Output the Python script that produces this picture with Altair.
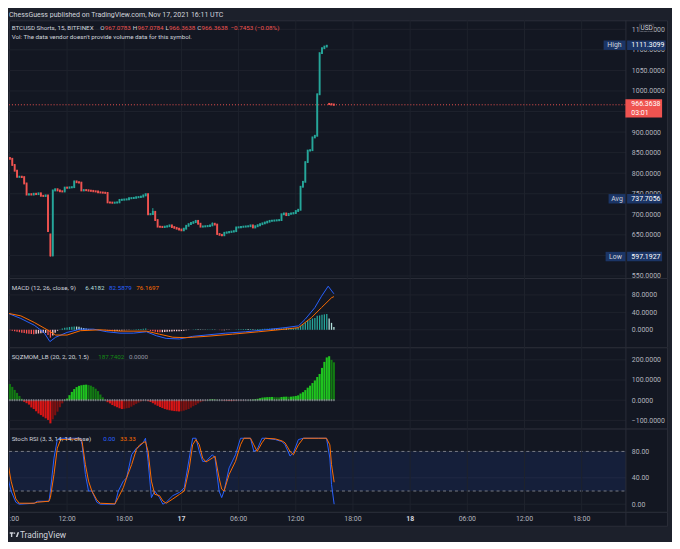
import altair as alt
import numpy as np
import pandas as pd

# ---------------- data ----------------
# 15-minute bars; index 0 = 17 Nov 2021 00:00 UTC
bar_idx = list(range(-72, 65))
closes = [
    835, 820, 806, 791, 791.5, 790.5, 775, 748, 749, 748,
    750, 749, 751, 745, 744.5, 746, 659, 600, 758, 761,
    758, 756, 755.5, 765, 764.5, 765.5, 766, 780, 778, 777,
    758, 759, 758.5, 757.5, 757, 756, 755.5, 753.5, 753, 752.5,
    752, 729, 728.5, 728, 728.5, 729, 735, 735.5, 736, 736.5,
    739, 739.5, 740, 741.5, 742, 743, 746, 749, 700, 700.5,
    706, 686, 670, 669.5, 669, 670, 671, 673, 669, 667,
    665, 663, 661, 665, 672, 676, 679, 681, 684, 677,
    670, 670.5, 671, 671.5, 673, 677, 675, 652, 650, 649,
    655, 656, 657, 658, 659, 668, 668.5, 669.5, 670, 670.5,
    671, 673, 668, 671, 673.5, 676, 678, 680, 682, 684,
    684.5, 685, 685.5, 686, 700, 702, 698, 701, 702, 703,
    708, 711, 767, 779, 827, 855, 856, 887, 891, 992,
    1092, 1104, 1108, 1110, 968, 967.0783, 966.3638]
first_open = 837
gap_opens = {-55: 651, 62: 968.6}
wick_high = {-72: 838, -12: 715, 13: 680, 61: 1111.3099, 64: 967.0784}
wick_low = {-55: 597.1927, -54: 598, -12: 699, 17: 647}

macd_hist = [
    -1, -2, -3, -4.5, -5.5, -6.5, -7.5, -8.5, -9, -9.5,
    -10, -9, -8.5, -8, -7.5, -7, -12, -18, -13, -7,
    -2, 1, 3, 4.5, 5.5, 6.5, 7, 7.5, 7.5, 7,
    5, 4, 3, 2, 1.5, 1, 0.8, 0.5, 0.3, 0,
    -0.5, -1.5, -2.5, -3, -3, -2.8, -2, -1.5, -1, -0.6,
    -0.2, 0.3, 0.8, 1.2, 1.6, 2, 2.5, 3, -0.5, -2.5,
    -3.5, -4.5, -5.5, -5.8, -5.5, -5, -4.5, -4, -3.8, -3.5,
    -3.2, -3, -2.8, -2, -1.2, -0.5, 0.2, 0.8, 1.5, 1.3,
    0.8, 0.6, 0.6, 0.7, 0.8, 1.1, 1.0, 0, -0.6, -1.0,
    -0.8, -0.5, -0.2, 0.1, 0.4, 1, 1.2, 1.4, 1.5, 1.6,
    1.6, 1.8, 1.4, 1.5, 1.7, 1.9, 2.1, 2.3, 2.5, 2.7,
    2.6, 2.5, 2.4, 2.3, 3.2, 3.6, 3.2, 3.3, 3.4, 3.5,
    4, 5, 9, 12, 17, 21, 23, 26, 27, 32,
    33, 34.5, 35.5, 36, 26, 16, 6.4182]
macd_idx = [-72.9, -67.4, -61.8, -57.7, -55.2, -52.8, -48.0, -42.4, -36.9, -31.3,
            -25.8, -20.2, -14.7, -10.5, -6.4, -0.8, 4.7, 10.3, 18.6, 26.9,
            35.2, 43.5, 49.1, 51.9, 56.0, 58.8, 61.6, 64.0]
macd_val = [38, 26, 10.6, -6, -27, -17, -6, 1.5, 1.5, -4.5,
            -7.6, -7.6, -4.5, -13.6, -19.7, -21, -15, -12, -7.6, -4.5,
            0, 5, 9, 24, 51, 77, 100, 82.5879]
signal_idx = [-72.9, -67.4, -61.8, -56.3, -52.8, -48.0, -42.4, -34.1, -25.8, -14.7,
              -9.2, -3.6, 1.9, 10.3, 21.4, 32.4, 43.5, 49.1, 54.6, 58.8, 63.0, 64.0]
signal_val = [38, 32, 17, 0, -12, -12, -2, 0, -3, -3,
              -10, -17, -18, -15, -10, -4.5, 1.5, 5, 28, 51, 73.5, 76.1697]

sqz_mom = [
    80, 66, 51, 36, 21, 7, -8, -15, -22, -36,
    -44, -55, -66, -74, -82, -90, -98, -115, -95, -75,
    -57, -35, -16, 2, 8, 25, 41, 55, 65, 71,
    74, 76, 77, 75, 72, 66, 57, 45, 28, 14,
    2, -10, -16, -24, -30, -35, -40, -44, -43, -40,
    -38, -32, -25, -18, -12, -6, -3, -1, -5, -9,
    -15, -22, -28, -34, -39, -44, -47, -50, -52, -54,
    -55, -56, -55, -52, -48, -44, -37, -30, -24, -16,
    -10, -5, -2, 1, 3, 5, 4, 2, 0.5, -1,
    -2, -3, -4, -4.5, -4, -3, -2, -1.5, -1, -0.5,
    0.5, 1.5, 3, 5, 7, 10, 13, 14, 15, 15.5,
    16, 15, 14.5, 14, 16, 17, 17.5, 17, 17.5, 19,
    21, 24, 33, 40, 50, 62, 72, 85, 98, 115,
    130, 160, 190, 212, 218, 200, 187.7402]

stoch_idx = [-73.2, -71.5, -69.5, -68.1, -61.8, -60.5, -55.6, -55.0, -53.5, -52.1,
             -50.7, -42.4, -41.7, -40.3, -39.0, -37.6, -35.5, -34.1, -27.9, -26.5,
             -24.4, -23.0, -20.9, -18.9, -17.5, -16.1, -15.1, -14.0, -12.6, -11.2,
             -9.2, -7.8, -6.4, -3.6, -0.8, 1.2, 3.3, 4.7, 6.1, 7.5,
             8.9, 10.3, 13.0, 14.1, 15.8, 16.9, 17.9, 20.0, 22.7, 24.8,
             26.2, 29.0, 30.4, 31.8, 33.8, 35.2, 39.4, 42.2, 43.5, 45.6,
             47.0, 49.1, 51.2, 57.4, 60.9, 62.3, 63.0, 64.1]
stoch_k = [45, 20, 3, 0, 1.5, 4.5, 4.5, 20, 70, 98,
           100, 100, 90, 45, 20, 20, 3, 0, 0, 20,
           35, 40, 75, 85, 88, 93, 100, 65, 10, 20,
           10, 0, 3, 13, 18, 25, 70, 100, 100, 80,
           65, 65, 75, 70, 20, 10, 20, 55, 75, 100,
           100, 100, 80, 83, 100, 100, 98, 95, 90, 73,
           78, 98, 100, 100, 100, 70, 30, 0]
stoch_d = [70, 35, 8, 1.5, 1.5, 3, 4.5, 10, 45, 85,
           98, 99, 95, 60, 35, 20, 6.5, 1.5, 0.5, 10,
           25, 40, 60, 83, 90, 93, 95, 80, 35, 15,
           13, 5, 1.5, 8, 15, 20, 55, 90, 98, 90,
           70, 64, 70, 73, 40, 23, 20, 45, 65, 90,
           100, 100, 90, 80, 93, 100, 99, 96, 93, 80,
           75, 90, 100, 100, 100, 90, 60, 33.33]

price_grid = [550, 600, 650, 700, 750, 800, 850, 900, 950, 1000, 1050, 1100, 1150]
# 600 and 950 sit fully under the Low / last-price badges in the picture
price_labels = [550, 650, 700, 750, 800, 850, 900, 1000, 1050, 1100, 1150]
macd_ticks = [0, 40, 80]
sqz_ticks = [-100, 0, 100, 200]
stoch_ticks = [0, 40, 80]
time_grid_idx = [-48, -24, 0, 24, 48, 72, 96, 120, 144, 168]
time_label_idx = [-48, -24, 0, 24, 48, 72, 96, 120, 144, 168]
time_label_txt = ["12:00", "18:00", "17", "06:00", "12:00", "18:00", "18", "06:00", "12:00", "18:00"]
time_label_day = [False, False, True, False, False, False, True, False, False, False]
cut_label_idx, cut_label_txt = -72.1, ":00"   # the 06:00 label cut by the left edge

price_high, price_avg, price_low, price_last = 1111.3099, 737.7056, 597.1927, 966.3638

# ---------------- style ----------------
W = 664
SEP = 622.5
BG = "#131722"
OUTER = "#1c202b"
GRID = "#1e222d"
SEPC = "#2a2e39"
TXT = "#d1d4dc"
AXC = "#b2b5be"
FONT = "Roboto"
GREEN = "#26a69a"
RED = "#ef5350"
NAVY = "#1b3566"
LFS = 6.3  # legend font size

x_scale = alt.Scale(domain=[-72.38, 203.83], nice=False, zero=False)
price_scale = alt.Scale(domain=[545.1, 1171.9], nice=False, zero=False)
macd_scale = alt.Scale(domain=[-40.2, 118.9], nice=False, zero=False)
sqz_scale = alt.Scale(domain=[-141, 262], nice=False, zero=False)
stoch_scale = alt.Scale(domain=[-11.6, 114.6], nice=False, zero=False)

one = pd.DataFrame({"k": [0]})


def X(f):
    return alt.X(f, type="quantitative", scale=x_scale, axis=None)


def yaxis(vals, fmt):
    return alt.Axis(orient="right", values=vals, format=fmt, labelPadding=-36, labelAlign="left",
                    labelBaseline="middle", labelColor=AXC, labelFont=FONT, labelFontSize=7,
                    ticks=False, tickSize=0, domain=False, grid=False, title=None,
                    labelOverlap=False, labelBound=False, labelFlush=False)


price_axis = yaxis(price_labels, ".4f")
macd_axis = yaxis(macd_ticks, ".4f")
sqz_axis = yaxis(sqz_ticks, ".4f")
stoch_axis = yaxis(stoch_ticks, ".2f")


def PY(f):
    return alt.Y(f, type="quantitative", scale=price_scale, axis=price_axis)


def MY(f):
    return alt.Y(f, type="quantitative", scale=macd_scale, axis=macd_axis)


def QY(f):
    return alt.Y(f, type="quantitative", scale=sqz_scale, axis=sqz_axis)


def SY(f):
    return alt.Y(f, type="quantitative", scale=stoch_scale, axis=stoch_axis)


def hgrid(vals, Yf):
    return alt.Chart(pd.DataFrame({"v": vals})).mark_rule(color=GRID, strokeWidth=1).encode(
        y=Yf("v"), x=alt.value(0), x2=alt.value(SEP))


def vgrid():
    return alt.Chart(pd.DataFrame({"i": time_grid_idx})).mark_rule(color=GRID, strokeWidth=1).encode(x=X("i"))


def sepline():
    return alt.Chart(one).mark_rule(color=SEPC, strokeWidth=1).encode(x=alt.value(SEP))


def label(x, y, text, color, size=LFS, align="left", weight="normal"):
    return alt.Chart(one).mark_text(text=text, align=align, baseline="middle", color=color,
                                    fontSize=size, font=FONT, fontWeight=weight).encode(
        x=alt.value(x), y=alt.value(y))


def ptext(price, x, text, color, dy=0, align="left", size=7):
    return alt.Chart(pd.DataFrame({"p": [price]})).mark_text(
        text=text, align=align, baseline="middle", color=color, fontSize=size, font=FONT, dy=dy).encode(
        x=alt.value(x), y=PY("p"))


def pbox(price, x1, x2, color, h, off=0):
    return alt.Chart(pd.DataFrame({"p": [price]})).mark_rule(
        color=color, strokeWidth=h, yOffset=off).encode(
        x=alt.value(x1), x2=alt.value(x2), y=PY("p"))


# ---------------- candles ----------------
opens = []
for k, i in enumerate(bar_idx):
    o = first_open if k == 0 else closes[k - 1]
    opens.append(gap_opens.get(i, o))
highs = [wick_high.get(i, max(o, c)) for i, o, c in zip(bar_idx, opens, closes)]
lows = [wick_low.get(i, min(o, c)) for i, o, c in zip(bar_idx, opens, closes)]
cdf = pd.DataFrame({"i": bar_idx, "o": opens, "c": closes, "h": highs, "l": lows})
cdf["col"] = np.where(cdf["c"] >= cdf["o"], GREEN, RED)

wicks = alt.Chart(cdf).mark_rule(strokeWidth=1).encode(
    x=X("i"), y=PY("l"), y2="h:Q", color=alt.Color("col:N", scale=None))
bodies = alt.Chart(cdf).mark_rule(strokeWidth=1.9, strokeCap="square").encode(
    x=X("i"), y=PY("o"), y2="c:Q", color=alt.Color("col:N", scale=None))
last_line = alt.Chart(pd.DataFrame({"p": [price_last]})).mark_rule(
    color=RED, strokeWidth=1, strokeDash=[1, 2]).encode(y=PY("p"), x=alt.value(0), x2=alt.value(SEP))

badges = []
for price, name, lx, vx2 in [(price_high, "High", 600, 662.5), (price_avg, "Avg", 605, 659),
                             (price_low, "Low", 602, 659)]:
    badges += [pbox(price, lx, 622, NAVY, 9.5), pbox(price, 623.7, vx2, NAVY, 9.5),
               ptext(price, (lx + 622) / 2, name, TXT, align="center"),
               ptext(price, 628, f"{price:.4f}", "#ffffff")]
badges += [pbox(price_last, 622, 659, RED, 18.4, 3.6),
           ptext(price_last, 628, f"{price_last:.4f}", "#ffffff", dy=-0.6),
           ptext(price_last, 628, "03:01", "#ffffff", dy=8),
           pbox(1150, 636, 651, "#434651", 8, -1.6),
           pbox(1150, 636.8, 650.2, BG, 6.4, -1.6),
           ptext(1150, 643.5, "USD", TXT, dy=-1.6, align="center", size=6.5)]

L1 = 7.7
main_legend = [
    label(0, -5.4, "ChessGuess published on TradingView.com, Nov 17, 2021 16:11 UTC", TXT, size=7.1),
    label(2.7, L1, "BTCUSD Shorts, 15, BITFINEX", TXT),
    label(92, L1, "O", TXT), label(96.5, L1, "967.0783", RED),
    label(125, L1, "H", TXT), label(129.6, L1, "967.0784", RED),
    label(158, L1, "L", TXT), label(161.5, L1, "966.3638", RED),
    label(190, L1, "C", TXT), label(194.3, L1, "966.3638", RED),
    label(223.5, L1, "\u22120.7453 (\u22120.08%)", RED),
    label(2.7, 17.3, "Vol: The data vendor doesn't provide volume data for this symbol.", TXT),
]

p1 = alt.layer(hgrid(price_grid, PY), vgrid(), sepline(), last_line, wicks, bodies,
               *main_legend, *badges).properties(width=W, height=260)

# ---------------- MACD ----------------
mdf = pd.DataFrame({"i": bar_idx, "h": macd_hist})
prev = mdf["h"].shift(1).fillna(mdf["h"].iloc[0] + 1)
mdf["col"] = np.where(mdf["h"] >= 0, np.where(mdf["h"] > prev, "#26a69a", "#b2dfdb"),
                      np.where(mdf["h"] < prev, "#ff5252", "#ffcdd2"))
mhist = alt.Chart(mdf).mark_rule(strokeWidth=1.3).encode(
    x=X("i"), y=MY("h"), y2=alt.datum(0), color=alt.Color("col:N", scale=None))
mline = alt.Chart(pd.DataFrame({"i": macd_idx, "v": macd_val})).mark_line(
    color="#2962ff", strokeWidth=1, clip=True).encode(x=X("i"), y=MY("v"))
sline = alt.Chart(pd.DataFrame({"i": signal_idx, "v": signal_val})).mark_line(
    color="#ff6d00", strokeWidth=1, clip=True).encode(x=X("i"), y=MY("v"))
p2 = alt.layer(hgrid(macd_ticks, MY), vgrid(), sepline(), mhist, mline, sline,
               label(2.7, 10, "MACD (12, 26, close, 9)", TXT),
               label(77, 10, "6.4182", "#b2dfdb"),
               label(101, 10, "82.5879", "#2962ff"),
               label(128.5, 10, "76.1697", "#ff6d00")).properties(width=W, height=70)

# ---------------- SQZMOM ----------------
qdf = pd.DataFrame({"i": bar_idx, "v": sqz_mom})
qdf["z"] = 0
qprev = qdf["v"].shift(1).fillna(qdf["v"].iloc[0] + 1)
qdf["col"] = np.where(qdf["v"] >= 0, np.where(qdf["v"] > qprev, "#1fc41f", "#137a13"),
                      np.where(qdf["v"] < qprev, "#d81515", "#7c1111"))
qhist = alt.Chart(qdf).mark_rule(strokeWidth=2.1).encode(
    x=X("i"), y=QY("v"), y2=alt.datum(0), color=alt.Color("col:N", scale=None))
qdots = alt.Chart(qdf).mark_point(shape="cross", filled=True, size=5, color="#868993", opacity=0.9).encode(
    x=X("i"), y=QY("z"))
p3 = alt.layer(hgrid(sqz_ticks, QY), vgrid(), sepline(), qhist, qdots,
               label(2.7, 10, "SQZMOM_LB (20, 2, 20, 1.5)", TXT),
               label(90, 10, "187.7402", "#168a16"),
               label(121, 10, "0.0000", "#9598a1")).properties(width=W, height=82)

# ---------------- Stoch RSI ----------------
band = alt.Chart(pd.DataFrame({"lo": [20], "hi": [80]})).mark_rect(color="#2962ff", opacity=0.11).encode(
    x=alt.value(0), x2=alt.value(SEP), y=SY("hi"), y2="lo:Q")
bandlines = alt.Chart(pd.DataFrame({"v": [20, 80]})).mark_rule(
    color="#787b86", strokeWidth=1, strokeDash=[3, 3]).encode(y=SY("v"), x=alt.value(0), x2=alt.value(SEP))
sdf = pd.DataFrame({"i": stoch_idx, "k": stoch_k, "d": stoch_d})
kline = alt.Chart(sdf).mark_line(color="#2962ff", strokeWidth=1, clip=True).encode(x=X("i"), y=SY("k"))
dline = alt.Chart(sdf).mark_line(color="#ff6d00", strokeWidth=1, clip=True).encode(x=X("i"), y=SY("d"))
p4 = alt.layer(hgrid(stoch_ticks, SY), band, bandlines, vgrid(), sepline(), kline, dline,
               label(2.7, 11, "Stoch RSI (3, 3, 14, 14, close)", TXT),
               label(95, 11, "0.00", "#2962ff"),
               label(112, 11, "33.33", "#ff6d00")).properties(width=W, height=84)

# ---------------- time axis + footer ----------------
tdf = pd.DataFrame({"i": time_label_idx, "t": time_label_txt, "day": time_label_day})
tnorm = alt.Chart(tdf[~tdf["day"]]).mark_text(fontSize=7, font=FONT, color=AXC, baseline="middle").encode(
    x=X("i"), y=alt.value(7), text="t:N")
tday = alt.Chart(tdf[tdf["day"]]).mark_text(fontSize=7, font=FONT, color=TXT, fontWeight="bold",
                                            baseline="middle").encode(x=X("i"), y=alt.value(7), text="t:N")
tcut = alt.Chart(pd.DataFrame({"i": [cut_label_idx], "t": [cut_label_txt]})).mark_text(
    fontSize=7, font=FONT, color=AXC, baseline="middle", align="left").encode(
    x=X("i"), y=alt.value(7), text="t:N")
logo = alt.Chart(one).mark_point(
    shape="M-1,-0.5H-0.2V-0.2H-0.45V0.5H-0.75V-0.2H-1Z M-0.1,-0.45H0.15V-0.2H-0.1Z M0.3,0.5L0.65,-0.5H1L0.65,0.5Z",
    filled=True, size=90, color=TXT, opacity=1).encode(x=alt.value(5.5), y=alt.value(23))
footer = label(11, 23, "TradingView", TXT, size=8.5)
p5 = alt.layer(sepline(), tnorm, tday, tcut, logo, footer).properties(width=W, height=14)

chart = alt.vconcat(p1, p2, p3, p4, p5, spacing=0, bounds="flush").properties(
    background=OUTER,
    padding={"left": 0, "top": 0, "right": 0, "bottom": 0},
).configure_view(fill=BG, stroke=SEPC, strokeWidth=1)

chart.save("out.html", embed_options={"renderer": "svg", "actions": False})
